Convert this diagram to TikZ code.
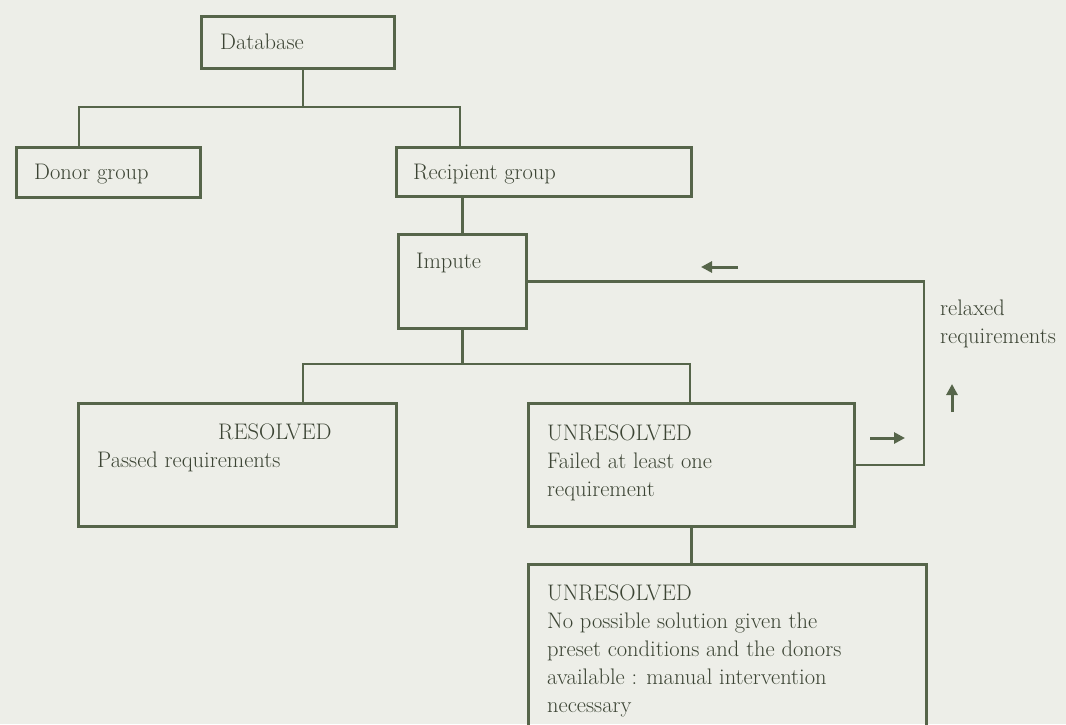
\documentclass[tikz,border=0pt]{standalone}
\usetikzlibrary{arrows.meta}
\definecolor{bg}{HTML}{EDEEE8}
\definecolor{ln}{HTML}{56654A}
\definecolor{tx}{HTML}{3C4434}
\begin{document}
\begin{tikzpicture}[x=1pt,y=-1pt,
  box/.style={draw=ln, line width=2.6pt, rectangle, inner sep=0pt, anchor=north west},
  txt/.style={text=tx, font=\fontsize{22.5}{28}\selectfont, inner sep=0pt, align=left},
  wire/.style={draw=ln, line width=2.4pt},
  flowarrow/.style={draw=ln, line width=3pt, -{Triangle[length=11pt,width=11pt]}}]
\useasboundingbox (0,0) rectangle (1066,724);
\fill[bg] (0,0) rectangle (1066,724);
\clip (0,0) rectangle (1066,724);
% boxes
\node[box, minimum width=193pt, minimum height=52pt] (db) at (200,15) {};
\node[box, minimum width=184pt, minimum height=50pt] (donor) at (15,146) {};
\node[box, minimum width=295pt, minimum height=49pt] (recip) at (395,146) {};
\node[box, minimum width=128pt, minimum height=94pt] (imp) at (397,233) {};
\node[box, minimum width=318pt, minimum height=123pt] (res) at (77,402) {};
\node[box, minimum width=326pt, minimum height=123pt] (unr) at (527,402) {};
\node[box, minimum width=398pt, minimum height=190pt] (fin) at (527,563) {};
% texts
\node[txt, anchor=mid west] (dbt) at (220,47) {Database};
\node[txt, anchor=mid west] (donort) at (34,177) {Donor group};
\node[txt, anchor=mid west] (recipt) at (413,177) {Recipient group};
\node[txt, anchor=mid west] (impt) at (416,266) {Impute};
\node[txt, anchor=north west] (rest) at (97,424) {\hspace*{121pt}RESOLVED\\Passed requirements};
\node[txt, anchor=north west] (unrt) at (547,425) {UNRESOLVED\\Failed at least one\\requirement};
\node[txt, anchor=north west] (fint) at (547,585) {UNRESOLVED\\No possible solution given the\\preset conditions and the donors\\available : manual intervention\\necessary};
\node[txt, anchor=north west] (relt) at (940,300) {relaxed\\requirements};
% connectors
\coordinate (j1) at (303,107);
\coordinate (bl) at (79,107);
\coordinate (br) at (460,107);
\draw[wire] (j1 |- db.south) -- (j1);
\draw[wire] (bl |- donor.north) -- (bl) -- (br) -- (br |- recip.north);
\draw[wire] (recip.south -| imp.north) -- (imp.north);
\coordinate (j2) at (461,364);
\coordinate (b2l) at (303,364);
\coordinate (b2r) at (690,364);
\draw[wire] (imp.south) -- (imp.south |- j2);
\draw[wire] (b2l |- res.north) -- (b2l) -- (b2r) -- (b2r |- unr.north);
\draw[wire] (unr.south) -- (unr.south |- fin.north);
\coordinate (lp) at (924,370);
\draw[wire] (imp.east) -| (lp) |- (unr.east);
% direction arrows
\coordinate (a1s) at (738,267);
\coordinate (a1e) at (701,267);
\coordinate (a2s) at (870,438);
\coordinate (a2e) at (905,438);
\coordinate (a3s) at (952,412);
\coordinate (a3e) at (952,384);
\draw[flowarrow] (a1s) -- (a1e);
\draw[flowarrow] (a2s) -- (a2e);
\draw[flowarrow] (a3s) -- (a3e);
\end{tikzpicture}
\end{document}
